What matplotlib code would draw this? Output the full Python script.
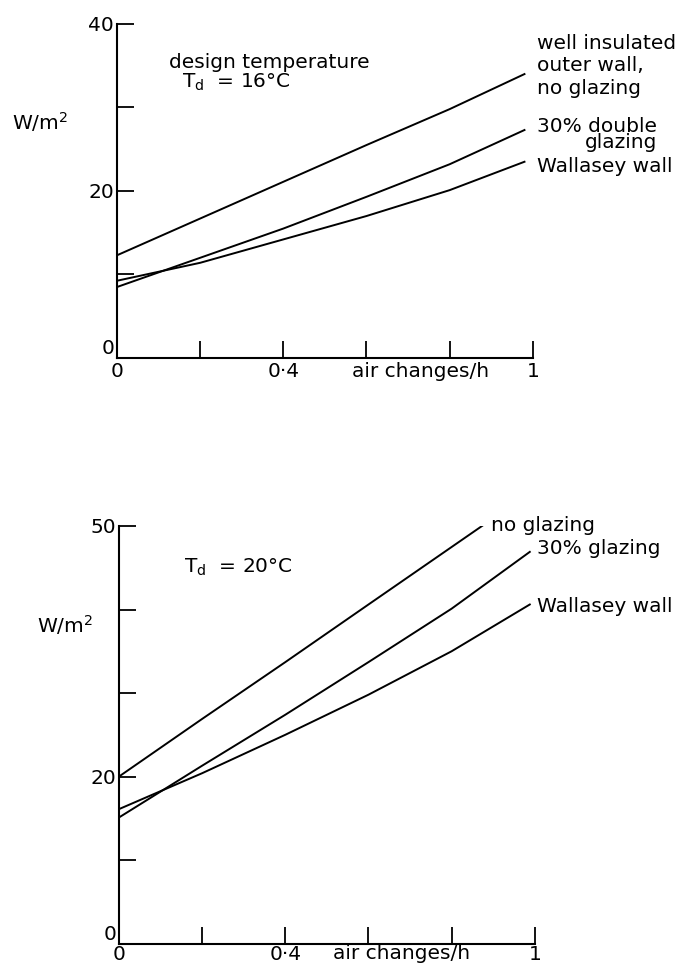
import matplotlib
matplotlib.use("Agg")
import matplotlib.pyplot as plt

# ---- data: top chart (design temperature 16 °C) ----
top_x = [0, 0.2, 0.4, 0.6, 0.8, 0.98]
top_well_insulated = [12.3, 16.7, 21.1, 25.5, 29.8, 34.0]
top_double_glazing = [8.5, 12.0, 15.5, 19.3, 23.2, 27.3]
top_wallasey = [9.25, 11.4, 14.2, 17.0, 20.1, 23.5]

# ---- data: bottom chart (design temperature 20 °C) ----
bot_x_noglaze = [0, 0.2, 0.4, 0.6, 0.876]
bot_no_glazing = [20.0, 26.9, 33.7, 40.6, 50.1]
bot_x = [0, 0.2, 0.4, 0.6, 0.8, 0.988]
bot_glazing30 = [15.1, 21.3, 27.4, 33.7, 40.1, 46.9]
bot_wallasey = [16.1, 20.4, 25.0, 29.8, 35.0, 40.6]

x_ticks = [0, 0.2, 0.4, 0.6, 0.8, 1.0]
x_ticklabels = ["0", "", "0·4", "", "", "1"]
top_yticks = [0, 10, 20, 30, 40]
top_yticklabels = ["0", "", "20", "", "40"]
bot_yticks = [0, 10, 20, 30, 40, 50]
bot_yticklabels = ["0", "", "20", "", "", "50"]

FS = 14.5
plt.rcParams['font.family'] = ['DejaVu Sans']

fig = plt.figure(figsize=(6.85, 9.66), dpi=100)

def style(ax, ylim, yticks, yticklabels, xpad):
    ax.set_xlim(0, 1)
    ax.set_ylim(*ylim)
    for s in ("top", "right"):
        ax.spines[s].set_visible(False)
    for s in ("left", "bottom"):
        ax.spines[s].set_linewidth(1.5)
    ax.set_xticks(x_ticks)
    ax.set_xticklabels(x_ticklabels, fontsize=FS)
    ax.set_yticks(yticks)
    ax.set_yticklabels(yticklabels, fontsize=FS)
    ax.tick_params(axis="both", direction="in", length=12, width=1.3)
    ax.tick_params(axis="x", pad=xpad)
    ax.tick_params(axis="y", pad=2)
    # the "0" on the y axis sits a little above the corner, as in the reference
    ax.get_yticklabels()[0].set_va("bottom")

lw = 1.4

# ---------- top chart ----------
ax1 = fig.add_axes([0.1708, 0.6294, 0.607, 0.3458])
style(ax1, (0, 40), top_yticks, top_yticklabels, 3)
ax1.plot(top_x, top_well_insulated, color="black", lw=lw)
ax1.plot(top_x, top_double_glazing, color="black", lw=lw)
ax1.plot(top_x, top_wallasey, color="black", lw=lw)
ax1.text(0.73, -1.6, "air changes/h", fontsize=FS, ha="center", va="center")
ax1.text(0.125, 35.4, "design temperature", fontsize=FS, ha="left", va="center")
ax1.text(0.156, 33.0, r"$\mathregular{T_d}$  = 16°C", fontsize=FS, ha="left", va="center")
ax1.text(1.01, 35.0, "well insulated\nouter wall,\nno glazing", fontsize=FS,
         ha="left", va="center", linespacing=1.22, clip_on=False)
ax1.text(1.01, 26.8, "30% double\nglazing", fontsize=FS, ha="left", va="center",
         multialignment="right", linespacing=0.78, clip_on=False)
ax1.text(1.01, 22.9, "Wallasey wall", fontsize=FS, ha="left", va="center", clip_on=False)
fig.text(12 / 685, 1 - 122 / 966, r"W/m$^{2}$", fontsize=FS, ha="left", va="center")

# ---------- bottom chart ----------
ax2 = fig.add_axes([0.1737, 0.0232, 0.607, 0.4323])
style(ax2, (0, 50), bot_yticks, bot_yticklabels, 1)
ax2.plot(bot_x_noglaze, bot_no_glazing, color="black", lw=lw)
ax2.plot(bot_x, bot_glazing30, color="black", lw=lw)
ax2.plot(bot_x, bot_wallasey, color="black", lw=lw)
ax2.text(0.68, -1.2, "air changes/h", fontsize=FS, ha="center", va="center")
ax2.text(0.156, 45.0, r"$\mathregular{T_d}$  = 20°C", fontsize=FS, ha="left", va="center")
ax2.text(0.894, 50.1, "no glazing", fontsize=FS, ha="left", va="center", clip_on=False)
ax2.text(1.005, 47.3, "30% glazing", fontsize=FS, ha="left", va="center", clip_on=False)
ax2.text(1.005, 40.4, "Wallasey wall", fontsize=FS, ha="left", va="center", clip_on=False)
fig.text(37 / 685, 1 - 625 / 966, r"W/m$^{2}$", fontsize=FS, ha="left", va="center")

fig.savefig("out.png", dpi=100)
